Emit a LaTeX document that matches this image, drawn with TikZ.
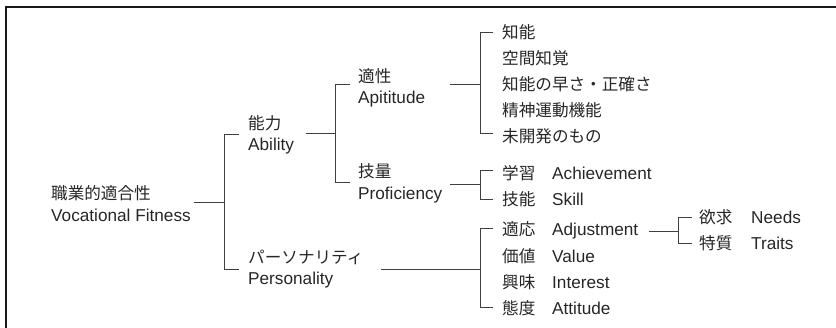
\documentclass[tikz,border=0pt]{standalone}
\usepackage{fontspec}
\setmainfont{Liberation Sans}
\newfontfamily\jpfont{Noto Sans CJK JP}
\begin{document}
\begin{tikzpicture}[x=1pt,y=-1pt,
  lbl/.style={anchor=base west,inner sep=0pt,text=black!85,font=\fontsize{17.2}{20}\selectfont},
  jp/.style={lbl,font=\fontsize{16.6}{20}\selectfont\jpfont},
  conn/.style={draw=black!75,line width=0.9pt},
  frame/.style={draw=black!90,line width=1.3pt}]
\useasboundingbox (0,0) rectangle (836,327);
% frame (only top and left edges visible)
\coordinate (ftr) at (840,7);
\coordinate (ftl) at (6,7);
\coordinate (fbl) at (6,330);
\draw[frame] (ftr) -- (ftl) -- (fbl);

% level 0
\node[jp]  (vfj) at (51,199.5) {職業的適合性};
\node[lbl] (vfe) at (51,221) {Vocational Fitness};
% level 1
\node[jp]  (abj) at (248,129.5) {能力};
\node[lbl] (abe) at (248,150.5) {Ability};
\node[jp]  (psj) at (248,263.5) {パーソナリティ};
\node[lbl] (pse) at (248,284.5) {Personality};
% level 2
\node[jp]  (apj) at (358,82.5) {適性};
\node[lbl] (ape) at (358,103.5) {Apititude};
\node[jp]  (prj) at (358,177) {技量};
\node[lbl] (pre) at (358,199) {Proficiency};
% aptitude items
\node[jp] (a1) at (502,38.5) {知能};
\node[jp] (a2) at (502,64.6) {空間知覚};
\node[jp] (a3) at (502,90.7) {知能の早さ・正確さ};
\node[jp] (a4) at (502,116.8) {精神運動機能};
\node[jp] (a5) at (502,142.9) {未開発のもの};
% proficiency items
\node[jp]  (p1j) at (502,179) {学習};
\node[lbl] (p1e) at (552,179) {Achievement};
\node[jp]  (p2j) at (502,205) {技能};
\node[lbl] (p2e) at (552,205) {Skill};
% personality items
\node[jp]  (q1j) at (502,235.5) {適応};
\node[lbl] (q1e) at (552,235.5) {Adjustment};
\node[jp]  (q2j) at (502,262) {価値};
\node[lbl] (q2e) at (552,262) {Value};
\node[jp]  (q3j) at (502,288) {興味};
\node[lbl] (q3e) at (552,288) {Interest};
\node[jp]  (q4j) at (502,314) {態度};
\node[lbl] (q4e) at (552,314) {Attitude};
% adjustment items
\node[jp]  (n1j) at (699,223) {欲求};
\node[lbl] (n1e) at (751,223) {Needs};
\node[jp]  (n2j) at (699,249) {特質};
\node[lbl] (n2e) at (751,249) {Traits};

% connector junctions
\coordinate (r0) at (194,202);   \coordinate (rj) at (224,202);
\coordinate (rt) at (224,134);   \coordinate (rb) at (224,269);
\coordinate (rte) at (239,134);  \coordinate (rbe) at (239,269);
\draw[conn] (r0) -- (rj);
\draw[conn] (rte) -- (rt) -- (rb) -- (rbe);

\coordinate (b0) at (306,133.5); \coordinate (bj) at (335,133.5);
\coordinate (bt) at (335,84);    \coordinate (bb) at (335,182);
\coordinate (bte) at (350,84);   \coordinate (bbe) at (350,182);
\draw[conn] (b0) -- (bj);
\draw[conn] (bte) -- (bt) -- (bb) -- (bbe);

\coordinate (c0) at (450,84);    \coordinate (cj) at (480,84);
\coordinate (ct) at (480,32.5);  \coordinate (cb) at (480,133);
\coordinate (cte) at (493,32.5); \coordinate (cbe) at (493,133);
\draw[conn] (c0) -- (cj);
\draw[conn] (cte) -- (ct) -- (cb) -- (cbe);

\coordinate (d0) at (450,184);   \coordinate (dj) at (480,184);
\coordinate (dt) at (480,170);   \coordinate (db) at (480,199);
\coordinate (dte) at (493,170);  \coordinate (dbe) at (493,199);
\draw[conn] (d0) -- (dj);
\draw[conn] (dte) -- (dt) -- (db) -- (dbe);

\coordinate (e0) at (381,269);   \coordinate (ej) at (480,269);
\coordinate (et) at (480,228);   \coordinate (eb) at (480,307);
\coordinate (ete) at (493,228);  \coordinate (ebe) at (493,307);
\draw[conn] (e0) -- (ej);
\draw[conn] (ete) -- (et) -- (eb) -- (ebe);

\coordinate (f0) at (649,231);   \coordinate (fj) at (678,231);
\coordinate (ft) at (678,217);   \coordinate (fb) at (678,243);
\coordinate (fte) at (692,217);  \coordinate (fbe) at (692,243);
\draw[conn] (f0) -- (fj);
\draw[conn] (fte) -- (ft) -- (fb) -- (fbe);
\end{tikzpicture}
\end{document}
